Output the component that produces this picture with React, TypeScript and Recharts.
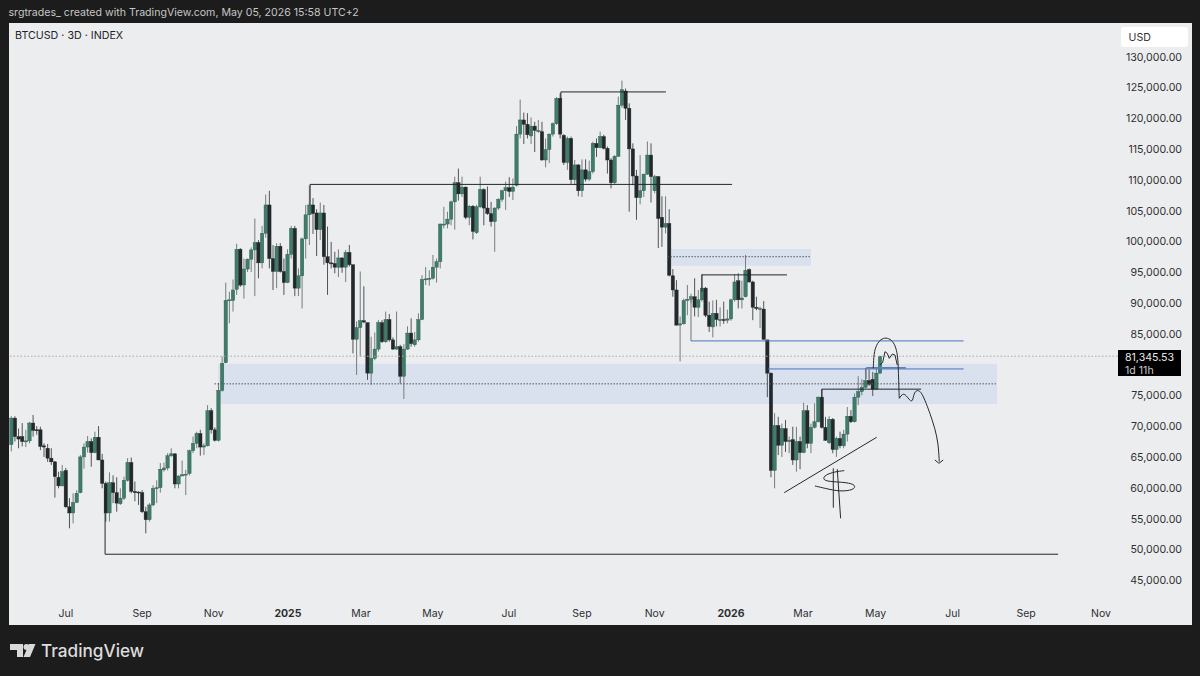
import React from "react";
import { ComposedChart, Bar, Line, XAxis, YAxis, ReferenceLine, ReferenceArea } from "recharts";

// prices are in thousands of USD
const opens = [
  67.0,71.3,68.3,68.3,67.6,67.6,70.5,69.4,69.4,66.8,
  66.4,64.8,64.2,61.7,60.3,62.8,56.9,55.9,57.6,59.2,
  65,66.6,67.5,65.7,68.2,64.5,60.7,55.9,60.8,59.2,
  57.4,58.3,61.2,64.1,59.4,59.3,59.2,56.1,54.8,57.2,
  59.9,60,62.9,63.2,65.2,65.5,60.6,61.9,62.1,62.3,
  66,67.2,68.8,66.6,66.8,72.5,69.4,67.7,75.8,80.3,
  90.4,90.4,92.2,98.7,92.9,95.5,97.1,98.6,99.8,96.5,
  101.3,105.9,97.2,95.1,99.2,95.1,93.3,97.9,102.1,92.4,
  94.4,100.4,104.3,105.9,104.6,101.9,104.6,97.5,96.5,96.4,
  95.8,97.3,95.8,98.2,96.2,84.1,86,87.1,86.8,78.6,
  81,82.5,86.8,83.7,87.3,84,82.5,82.9,78.1,82.5,
  85.1,83.2,84,87.3,93.8,93.9,94,95.8,96.7,102.8,
  102.8,103.6,106.4,109.5,107.7,108.8,103.9,105.7,101.4,105.6,
  108.4,105.4,104.5,103.2,105.4,106.8,108.2,108.7,108.1,109.1,
  117.4,119.7,119,117.1,118.7,118,117.8,113.2,114.9,117.4,
  119.1,123.2,117.2,112.8,116.7,110,112.4,108.2,111.6,110.1,
  111.3,115.9,115.2,117,115.1,113.2,109.5,113.8,122.1,124.4,
  121.6,115,110.6,107.1,108.2,110.9,114,108.2,110.5,103.9,
  102.3,102.9,94.4,92.1,86.4,86.6,90.4,90.6,91,89.3,
  90.5,92.4,88,86.1,88.3,87.3,87.3,87.2,87.4,90.5,
  93.6,90.5,91,95.4,93.4,89.3,89.1,89,84,78.6,
  62.8,70.1,66.9,69.6,67.5,67.8,64.5,67.5,65.7,72.5,
  67.2,69.8,70.7,74.7,69.8,67.3,71.1,66.2,68,66.8,
  68.7,71.6,70.7,74.7,75.6,76.3,77.4,77.6,76,78.6,
];
const closes = [
  71.3,68.3,67.9,67.5,67.6,70.5,69.3,69.3,66.7,66.6,
  64.8,64.2,61.8,60.3,62.6,56.9,55.9,57.6,59.1,65,
  66.6,67.5,65.7,68.2,64.5,60.7,55.9,60.8,59.2,57.5,
  58.3,61.2,64.1,59.4,59.2,59.2,56.1,54.8,57.2,59.9,
  60,63,63.2,65.2,65.5,60.6,61.9,62.1,62.2,66,
  67.2,68.8,66.6,66.8,72.5,69.4,67.7,75.8,80.2,90.4,
  90.5,92.1,98.7,92.9,95.5,97.1,98.6,99.8,96.5,101.3,
  105.9,97.2,95.1,99.2,95.1,93.3,97.9,102.1,92.4,94.4,
  100.4,104.3,105.9,104.5,101.9,104.6,97.5,96.5,96.4,95.8,
  97.3,95.8,98.2,96.2,84.1,86,87.1,86.9,78.6,81,
  82.5,86.8,83.7,87.3,84,82.5,82.9,78.1,82.5,85.1,
  83.4,84,87.3,93.8,93.9,94,95.8,96.7,102.8,102.8,
  103.6,106.4,109.5,107.7,108.8,103.9,105.7,101.6,105.6,108.4,
  105.4,104.5,103.2,105.4,106.8,108.2,108.7,108.1,108.8,117.4,
  119.7,119,117.3,118.7,118,118,113.2,114.9,117.4,119.1,
  123.2,117.4,112.8,116.7,110,112.4,108.2,111.6,110.1,111.3,
  115.9,115.2,117,115.1,113.2,109.5,113.8,122.1,124.6,121.6,
  115,110.6,107.1,108.2,110.9,114,110.5,110.5,103.7,102.3,
  102.9,94.5,92.1,86.4,86.6,90.4,90.6,91,89.3,90.5,
  92.4,88,86.2,88.3,87.3,87.3,87.2,87.4,90.5,93.4,
  90.5,90.8,95.3,93.4,89.3,89.1,89.1,84.1,78.6,62.8,
  70.1,66.9,69.6,67.5,67.7,64.5,67.5,65.7,72.5,67.2,
  69.8,70.7,74.7,69.8,67.7,71.1,66.2,68,66.8,68.7,
  71.6,70.7,74.7,75.6,76.3,77.4,76.8,76,78.6,81.35,
];
const highs = [
  71.6,71.6,69.6,70.5,69.4,70.7,71.8,70,69.9,67.2,
  67.1,66.4,64.3,62.6,63.7,63.2,58.3,59.1,59.6,65.3,
  67.2,68.4,68,69.1,70,65.5,61,62.5,62,61.7,
  59.9,61.8,64.8,64.9,61,59.4,59.6,56.9,57.5,60.4,
  61.2,64,64.1,65.6,66.4,65.6,62,64.4,62.9,66.2,
  68.3,69.1,69.4,67.2,73.4,72.9,69.8,77,81.3,93.3,
  91.8,93.8,99.6,98.9,97.2,97.2,99,103.7,100.2,102.5,
  107.6,108.2,99.4,99.7,99.7,97.2,98.7,102.5,102.5,95.6,
  100.6,105.9,109.1,107,105.2,106.3,105.9,102.4,99.9,98.3,
  98.7,97.4,98.6,99.4,96.2,87,95.1,92.7,86.8,84.5,
  85.2,87.2,87.2,88.6,88.2,84.4,88.6,83.2,83.3,86.2,
  87.5,85.3,88.3,94.5,95.8,95.3,97.8,97.2,102.9,105.6,
  104.8,106.6,110.5,111.8,110.5,108.9,105.9,105.9,105.9,110.5,
  108.6,108.9,106.4,105.5,107,108.4,109.7,110.4,110.2,118.7,
  123,120.9,120.8,120.1,119.4,119.7,119.4,116.7,117.5,119.3,
  123.4,124,117.4,117,117,113.2,112.5,113.3,113.3,113.1,
  116.2,116.7,117.8,117.3,115.4,113.5,114,123.5,126.1,124.8,
  122.4,115.9,111.6,114,111,116.2,115.9,110.8,110.6,107.3,
  107.3,105.2,95.5,93.7,87.8,90.7,92.9,91.5,94,92.1,
  94.7,92.6,90.2,90.4,90.5,89.3,90.2,88.9,90.7,94.7,
  94.8,93.6,97.8,95.6,93.6,91,89.4,90.3,84,78.7,
  72.1,71.5,70.4,71,68.3,69.9,69.9,68.3,73.8,73.4,
  70.4,73.7,74.8,76,71.5,71.6,71.3,68.3,69.1,69.4,
  73.1,72.6,75.3,78.1,77.6,79.4,79.2,78.8,79.5,81.4,
];
const lows = [
  65.9,67.5,66.4,66.7,66.6,67.2,68.3,68.6,66.1,65,
  64.2,63.7,58.4,59.9,60.2,56.7,53.4,54.2,57.5,59.1,
  63.1,65.7,63.4,65.6,64.5,59.9,54.5,54.5,57.5,56.1,
  57.2,58,61,59.1,57.8,57.2,55.9,52.6,54.5,57,
  57.5,59.2,62.6,62.8,65,59.9,59.9,61.9,58.8,62,
  65.6,66.4,65.2,65.3,66.7,68.8,67.5,67.5,75.6,80.2,
  86.7,88.6,91.3,92.6,90.7,95,95,91.1,94,95.6,
  100.6,95.6,92.1,92.4,94.9,91.3,93.2,97.2,91.1,91.1,
  89.1,97.2,99.4,101.2,97.6,100.2,96.2,91.3,95.6,94.8,
  94.2,94.9,93.4,95.9,81.8,78.3,81.3,86.7,77.5,76.7,
  80.7,82.1,83.5,83.5,83.7,82.4,82.4,76.9,74.4,82.4,
  82.9,82.9,83.7,87.2,92.9,92.8,93.8,93.3,95.6,102.1,
  102.1,102.6,101.9,106.6,107.2,103.6,102.6,100.3,101.2,105.4,
  102.6,104.3,102.4,98.3,105.1,106.4,105.1,107.2,106.7,108.9,
  116.7,115.8,116.7,115.8,114.5,117.6,113.1,112,112.7,117,
  118.9,116.7,112.4,111.6,109.3,109.1,107.3,107.2,109.7,109.8,
  111,113.7,115.1,114.9,111,108.6,109.3,113.7,121.7,119.7,
  104.8,109.1,103.5,106,107.2,110.8,106.3,107.8,98.9,99.1,
  101.3,94.3,91,86.3,80.5,86.5,88,90,87.8,87.7,
  90.2,87.7,85.3,84.4,86.2,86.2,86.6,86.7,87.1,90.2,
  89.1,89.1,90.9,93.3,87.2,88.8,85.9,84,74.7,61.7,
  59.9,65.3,65,65.8,65.6,63.7,62.6,63,65.6,66.4,
  65.6,69.6,70.6,69.6,67.6,67.1,65.6,65,66.4,66.4,
  67.5,70.5,70.6,73.4,75,76.1,76.5,74.9,75.9,78.5,
];

const priceTicks = [130,125,120,115,110,105,100,95,90,85,75,70,65,60,55,50,45];
const timeTicks = [15,36,55.7,76.1,96.2,116,136.9,157,177,198,217.8,237.8,259,279.2,299.8];
const timeLabels = ["Jul","Sep","Nov","2025","Mar","May","Jul","Sep","Nov","2026","Mar","May","Jul","Sep","Nov"];
const lastPrice = 81.34553;

// drawings, in [bar index, price] pairs
const blackSegments: number[][] = [
  [151.2,124.25,180.1,124.25],[151.2,124.25,151.2,122.9],
  [82.2,109.24,198.3,109.24],[82.2,109.24,82.2,105.9],
  [190,94.55,213.4,94.55],[190,94.55,190,91.8],
  [223,76,250.3,76],[223,76,223,74.6],
  [25.8,49.2,288,49.2],[25.8,49.2,25.8,60],
];
const blueSegments: number[][] = [
  [187,83.83,262,83.83],
  [208.2,79.28,262,79.28],
];
const thickBlueSegments: number[][] = [[235.2,79.45,246.1,79.45]];
const greySegments: number[][] = [[187,83.83,187,91],[235.2,79.45,235.2,77.6]];
const zones: number[][] = [
  [56.9,271.2,73.6,80.13,76.86],
  [181.5,220,96.05,98.77,97.5],
];
const arch = [[237.15,79.38],[237.3,81.8],[238.0,83.2],[239.17,84.1],[240.63,84.4],[242.19,84.0],[243.2,83.1],[243.85,81.54],[244.03,79.65],[244.12,77.49],[244.3,74.51]];
const path = [[244.3,74.51],[245.22,75.32],[246.13,75.05],[247.24,74.13],[247.97,73.97],[248.34,75.32],[249.07,75.86],[250.17,75.7],[251.36,74.24],[252.74,72.08],[254.11,69.64],[255.03,67.21],[255.3,64.23]];
const arrowHead = [[254.11,64.5],[255.21,63.96],[256.4,64.5]];
const zigzag = [[238.98,79.92],[239.72,80.3],[240.36,82.08],[241,81.81],[241.55,81],[242.38,81.7],[243.11,81.54],[243.75,79.92]];
const trend = [[212.66,59.2],[238.07,68.18]];
const dollarS = [[229.17,62.77],[226.6,62.6],[223.85,62.07],[223.21,61.36],[224.77,60.98],[229.81,60.88],[232.38,60.44],[231.83,59.63],[227.98,59.36],[223.85,59.9],[221.1,60.28]];
const dollarBar1 = [[226.14,63.15],[226.15,56.76]];
const dollarBar2 = [[227.24,63],[228.16,55.03]];

const candles = opens.map((o, i) => ({ i, o, c: closes[i], h: highs[i], l: lows[i], range: [lows[i], highs[i]] }));
const toRows = (pts: number[][]) => pts.map(([i, p]) => ({ i, p }));

const GREEN = "#3f7d6a";
const DARK = "#22282b";
const FONT = "Inter, 'Liberation Sans', sans-serif";

function Candle(props: any) {
  const { x, y, width, height, payload } = props;
  const { o, c, h, l } = payload;
  const cx = x + width / 2;
  const k = h === l ? 0 : height / (h - l);
  const top = y + (h - Math.max(o, c)) * k;
  const bh = Math.max(Math.abs(o - c) * k, 1);
  const up = c >= o;
  return (
    <g>
      <line x1={cx} x2={cx} y1={y} y2={y + height} stroke={up ? "#777c7b" : "#505456"} strokeWidth={1} />
      <rect x={cx - 1.7} y={top} width={3.4} height={bh} fill={up ? GREEN : DARK} stroke={up ? "#2c5a4c" : DARK} strokeWidth={0.4} />
    </g>
  );
}

function PriceTick(props: any) {
  const { y, payload } = props;
  return (
    <text x={1182} y={y + 4} textAnchor="end" fontFamily={FONT} fontSize={10.6} fill="#2f2f33">
      {payload.value.toLocaleString("en-US")},000.00
    </text>
  );
}

function TimeTick(props: any) {
  const { x, payload } = props;
  const label = timeLabels[timeTicks.indexOf(payload.value)];
  const bold = /^\d+$/.test(label);
  return (
    <text x={x} y={617} textAnchor="middle" fontFamily={FONT} fontSize={10.5} fontWeight={bold ? 700 : 400} fill="#2f2f33">
      {label}
    </text>
  );
}

const seg = (s: number[], key: string, stroke: string, w = 1) => (
  <ReferenceLine key={key} segment={[{ x: s[0], y: s[1] }, { x: s[2], y: s[3] }]} stroke={stroke} strokeWidth={w} ifOverflow="visible" />
);
const curve = (pts: number[][], key: string, type: any = "basis") => (
  <Line key={key} data={toRows(pts)} dataKey="p" type={type} stroke="#26292c" strokeWidth={1} dot={false} activeDot={false} isAnimationActive={false} legendType="none" />
);

export default function App() {
  return (
    <div style={{ position: "fixed", left: 0, top: 0, width: 1200, height: 676, background: "#1c1c1c", overflow: "hidden", fontFamily: FONT }}>
      <div style={{ position: "absolute", left: 8.5, top: 6, color: "#c6c6c6", fontSize: 10.6, whiteSpace: "nowrap" }}>
        srgtrades_ created with TradingView.com, May 05, 2026 15:58 UTC+2
      </div>
      <div style={{ position: "absolute", left: 8.5, top: 22.5, width: 1183.5, height: 602.5, background: "#ecedef" }} />
      <div style={{ position: "absolute", left: 0, top: 0 }}>
        <ComposedChart width={1200} height={676} data={candles} margin={{ left: 9, top: 23, right: 8, bottom: 51 }}>
          <XAxis dataKey="i" type="number" domain={[-0.633, 305.3]} ticks={timeTicks} tick={<TimeTick />} axisLine={false} tickLine={false} height={29} interval={0} allowDataOverflow />
          <YAxis orientation="right" type="number" domain={[42.42, 135.44]} ticks={priceTicks} tick={<PriceTick />} axisLine={false} tickLine={false} width={71} interval={0} allowDataOverflow />
          {zones.map((z, n) => (
            <ReferenceArea key={`z${n}`} x1={z[0]} x2={z[1]} y1={z[2]} y2={z[3]} fill="#d9e1ee" fillOpacity={1} stroke="none" ifOverflow="visible" />
          ))}
          {zones.map((z, n) => (
            <ReferenceLine key={`m${n}`} segment={[{ x: z[0] - 1, y: z[4] }, { x: z[1], y: z[4] }]} stroke="#55585e" strokeWidth={1} strokeDasharray="1.5 1.5" ifOverflow="visible" />
          ))}
          <ReferenceLine y={lastPrice} stroke="#a9a9a9" strokeWidth={1} strokeDasharray="1.5 2" />
          <Bar dataKey="range" barSize={3} shape={<Candle />} isAnimationActive={false} />
          {blackSegments.map((s, n) => seg(s, `k${n}`, "#24262a"))}
          {blueSegments.map((s, n) => seg(s, `b${n}`, "#4a73c4"))}
          {thickBlueSegments.map((s, n) => seg(s, `t${n}`, "#5f7fb8", 1.6))}
          {greySegments.map((s, n) => seg(s, `g${n}`, "#70767c"))}
          {curve(arch, "arch")}
          {curve(path, "path")}
          {curve(arrowHead, "head", "linear")}
          {curve(zigzag, "zig", "linear")}
          {curve(trend, "trend", "linear")}
          {curve(dollarS, "ds")}
          {curve(dollarBar1, "d1", "linear")}
          {curve(dollarBar2, "d2", "linear")}
        </ComposedChart>
      </div>
      <div style={{ position: "absolute", left: 15, top: 28.5, fontSize: 10.7, color: "#232327", whiteSpace: "nowrap" }}>BTCUSD · 3D · INDEX</div>
      <div style={{ position: "absolute", left: 1121, top: 26.5, width: 67, height: 20.5, background: "#fff", borderRadius: 3 }}>
        <span style={{ position: "absolute", left: 7.5, top: 4, fontSize: 10.6, color: "#2f2f33" }}>USD</span>
      </div>
      <div style={{ position: "absolute", left: 1118, top: 349.5, width: 63, height: 26.5, background: "#000", color: "#e8e8e8", fontSize: 10.6, lineHeight: "13px" }}>
        <div style={{ position: "absolute", left: 7, top: 1 }}>81,345.53</div>
        <div style={{ position: "absolute", left: 7, top: 14, color: "#c8c8c8" }}>1d 11h</div>
      </div>
      <svg style={{ position: "absolute", left: 10, top: 644 }} width={26} height={14}>
        <path d="M0 0H13V13H7V6H0Z" fill="#d9d9d9" />
        <circle cx={16.5} cy={3} r={3} fill="#d9d9d9" />
        <path d="M19 0H25.5L20 13H13.5Z" fill="#d9d9d9" />
      </svg>
      <div style={{ position: "absolute", left: 41, top: 640, color: "#dcdcdc", fontSize: 17.2, fontWeight: 500, whiteSpace: "nowrap" }}>TradingView</div>
    </div>
  );
}
